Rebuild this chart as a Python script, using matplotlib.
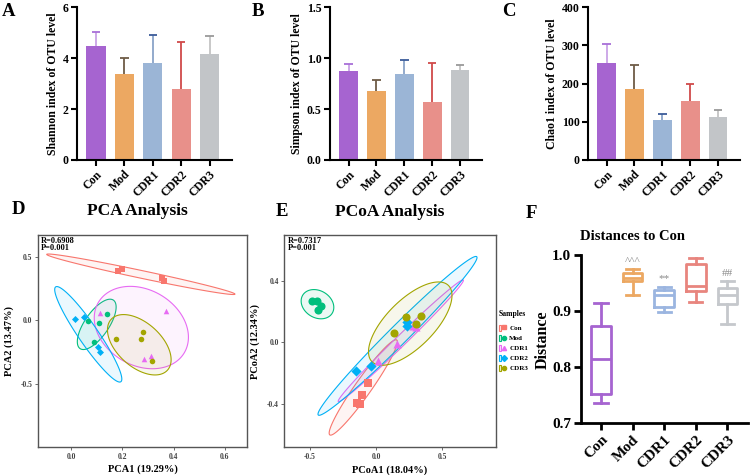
import numpy as np
import matplotlib
matplotlib.use('Agg')
import matplotlib.pyplot as plt
from matplotlib.lines import Line2D
from matplotlib.patches import Patch
from matplotlib.legend_handler import HandlerTuple
from matplotlib.colors import to_rgba

plt.rcParams['font.family'] = ['Liberation Serif', 'DejaVu Serif']
plt.rcParams['font.weight'] = 'bold'
plt.rcParams['axes.labelweight'] = 'bold'

# ---------------- data ----------------
groups = ['Con', 'Mod', 'CDR1', 'CDR2', 'CDR3']

shannon_mean = [4.48, 3.38, 3.82, 2.78, 4.15]
shannon_sd = [0.54, 0.64, 1.08, 1.87, 0.72]
simpson_mean = [0.87, 0.68, 0.84, 0.57, 0.88]
simpson_sd = [0.075, 0.105, 0.145, 0.385, 0.055]
chao1_mean = [253, 185, 104, 155, 112]
chao1_sd = [50, 64, 16, 45, 18]

# PCA (panel D) sample scores
pca_con_x = [0.184, 0.198, 0.356, 0.363]
pca_con_y = [0.389, 0.402, 0.331, 0.310]
pca_mod_x = [0.065, 0.108, 0.139, 0.090]
pca_mod_y = [-0.005, -0.024, 0.049, -0.168]
pca_cdr1_x = [0.113, 0.370, 0.285, 0.313]
pca_cdr1_y = [0.060, 0.070, -0.303, -0.277]
pca_cdr2_x = [0.017, 0.049, 0.104, 0.112]
pca_cdr2_y = [0.013, 0.026, -0.209, -0.246]
pca_cdr3_x = [0.177, 0.281, 0.274, 0.317]
pca_cdr3_y = [-0.144, -0.089, -0.149, -0.317]
# ellipse: centre x, centre y, major-axis tip x, tip y, minor/major ratio
pca_ell_cx = [0.272, 0.100, 0.274, 0.067, 0.266]
pca_ell_cy = [0.362, -0.031, -0.056, -0.109, -0.191]
pca_ell_tx = [0.639, 0.165, 0.442, 0.194, 0.376]
pca_ell_ty = [0.206, 0.159, -0.252, -0.481, -0.390]
pca_ell_ratio = [0.04, 0.41, 0.76, 0.17, 0.58]

# PCoA (panel E) sample scores
pcoa_con_x = [-0.058, -0.108, -0.141, -0.121]
pcoa_con_y = [-0.264, -0.344, -0.395, -0.405]
pcoa_mod_x = [-0.484, -0.447, -0.414, -0.435]
pcoa_mod_y = [0.270, 0.270, 0.237, 0.211]
pcoa_cdr1_x = [0.017, 0.156, 0.281, 0.299]
pcoa_cdr1_y = [-0.120, -0.013, 0.107, 0.098]
pcoa_cdr2_x = [-0.151, -0.040, 0.236, 0.231]
pcoa_cdr2_y = [-0.186, -0.153, 0.135, 0.109]
pcoa_cdr3_x = [0.226, 0.337, 0.299, 0.138]
pcoa_cdr3_y = [0.163, 0.172, 0.120, 0.063]
pcoa_ell_cx = [-0.096, -0.441, 0.187, 0.162, 0.258]
pcoa_ell_cy = [-0.295, 0.249, 0.010, 0.042, 0.122]
pcoa_ell_tx = [0.156, -0.330, 0.658, 0.759, 0.546]
pcoa_ell_ty = [0.015, 0.190, 0.407, 0.559, 0.371]
pcoa_ell_ratio = [0.14, 0.78, 0.06, 0.085, 0.44]

# Distances to Con (panel F) box statistics
dist_low = [0.736, 0.929, 0.898, 0.917, 0.878]
dist_q1 = [0.752, 0.955, 0.907, 0.936, 0.913]
dist_med = [0.814, 0.960, 0.930, 0.945, 0.929]
dist_q3 = [0.873, 0.968, 0.938, 0.984, 0.941]
dist_high = [0.914, 0.975, 0.944, 0.995, 0.954]
dist_marks = ['', '^^^', '**', '', '##']

# ---------------- styles ----------------
bar_colors = ['#A664D0', '#ECA862', '#9BB5D6', '#E8908A', '#C2C5C8']
stem_colors = ['#C9A2E6', '#6E5C46', '#8AA4C8', '#D04A4A', '#C4C4C4']
cap_colors = ['#A870D8', '#6E5C46', '#3B5C9A', '#D04A4A', '#9A9A9A']
box_colors = ['#A664D0', '#ECA862', '#9BB5E0', '#E8857E', '#C5C8CC']
grp_colors = ['#F8766D', '#00BF7D', '#E76BF3', '#00B0F6', '#A3A500']
grp_markers = ['s', 'o', '^', 'D', 'o']

W, H = 750, 475
fig = plt.figure(figsize=(W / 100, H / 100), dpi=100)


def rect(l, t, r, b):
    return [l / W, 1 - b / H, (r - l) / W, (b - t) / H]


def bar_panel(r, means, sds, ylim, yticks, ylabel, fmt):
    ax = fig.add_axes(r)
    x = np.arange(len(groups))
    means = np.array(means, float)
    sds = np.array(sds, float)
    ax.bar(x, means, width=0.68, color=bar_colors, zorder=2)
    ax.vlines(x, means, means + sds, colors=stem_colors, lw=1.3, zorder=3)
    ax.hlines(means + sds, x - 0.15, x + 0.15, colors=cap_colors, lw=1.3, zorder=3)
    ax.set_xlim(-0.67, 4.79)
    ax.set_ylim(*ylim)
    ax.set_yticks(yticks)
    ax.set_yticklabels([fmt.format(v) for v in yticks])
    ax.set_xticks(x)
    ax.set_xticklabels(groups, rotation=45, ha='right', rotation_mode='anchor')
    for s in ['top', 'right']:
        ax.spines[s].set_visible(False)
    for s in ['left', 'bottom']:
        ax.spines[s].set_linewidth(1.5)
    ax.tick_params(width=1.5, length=4, labelsize=8.5, pad=2)
    ax.set_ylabel(ylabel, fontsize=8.5, labelpad=3)
    return ax


axA = bar_panel(rect(77, 7.3, 232, 160), shannon_mean, shannon_sd, (0, 6), [0, 2, 4, 6],
                'Shannon index of OTU level', '{:g}')
axB = bar_panel(rect(330, 7.3, 482, 160), simpson_mean, simpson_sd, (0, 1.5), [0, 0.5, 1.0, 1.5],
                'Simpson index of OTU level', '{:.1f}')
axC = bar_panel(rect(588, 7.3, 740, 160), chao1_mean, chao1_sd, (0, 400), [0, 100, 200, 300, 400],
                'Chao1 index of OTU level', '{:g}')


def draw_ellipse(ax, cx, cy, tx, ty, ratio, color):
    T = ax.transData
    c = T.transform((cx, cy))
    t = T.transform((tx, ty))
    a = t - c
    b = np.array([-a[1], a[0]]) * ratio
    th = np.linspace(0, 2 * np.pi, 300)
    pts = c + np.outer(np.cos(th), a) + np.outer(np.sin(th), b)
    d = T.inverted().transform(pts)
    ax.fill(d[:, 0], d[:, 1], facecolor=to_rgba(color, 0.08), edgecolor=color, lw=0.8, zorder=1)


def ord_panel(r, xs, ys, ell, xlim, ylim, xticks, yticks, xlabel, ylabel, stat, msize):
    ax = fig.add_axes(r)
    ax.set_xlim(*xlim)
    ax.set_ylim(*ylim)
    cxs, cys, txs, tys, rats = ell
    for i in range(len(groups)):
        draw_ellipse(ax, cxs[i], cys[i], txs[i], tys[i], rats[i], grp_colors[i])
    for i in range(len(groups)):
        s = msize * (0.8 if grp_markers[i] == 'D' else 1.0)
        ax.scatter(xs[i], ys[i], marker=grp_markers[i], s=s, color=grp_colors[i],
                   linewidths=0, zorder=3)
    ax.set_xticks(xticks)
    ax.set_xticklabels(['{:.1f}'.format(v) for v in xticks])
    ax.set_yticks(yticks)
    ax.set_yticklabels(['{:.1f}'.format(v) for v in yticks])
    for s in ax.spines.values():
        s.set_color('#555555')
        s.set_linewidth(1.0)
    ax.tick_params(length=2, width=0.6, color='#555555', labelsize=5.5,
                   labelcolor='#444444', pad=2)
    ax.set_xlabel(xlabel, fontsize=7.5, labelpad=3)
    ax.set_ylabel(ylabel, fontsize=7.5, labelpad=5)
    ax.text(0.015, 0.99, stat, transform=ax.transAxes, ha='left', va='top',
            fontsize=6, linespacing=0.85)
    return ax


axD = ord_panel(rect(38, 235, 247, 447),
                [pca_con_x, pca_mod_x, pca_cdr1_x, pca_cdr2_x, pca_cdr3_x],
                [pca_con_y, pca_mod_y, pca_cdr1_y, pca_cdr2_y, pca_cdr3_y],
                (pca_ell_cx, pca_ell_cy, pca_ell_tx, pca_ell_ty, pca_ell_ratio),
                (-0.129, 0.686), (-0.993, 0.67), [0.0, 0.2, 0.4, 0.6], [-0.5, 0.0, 0.5],
                'PCA1 (19.29%)', 'PCA2 (13.47%)', 'R=0.6908\nP=0.001', 16)

axE = ord_panel(rect(284.3, 235, 495.7, 447.3),
                [pcoa_con_x, pcoa_mod_x, pcoa_cdr1_x, pcoa_cdr2_x, pcoa_cdr3_x],
                [pcoa_con_y, pcoa_mod_y, pcoa_cdr1_y, pcoa_cdr2_y, pcoa_cdr3_y],
                (pcoa_ell_cx, pcoa_ell_cy, pcoa_ell_tx, pcoa_ell_ty, pcoa_ell_ratio),
                (-0.691, 0.902), (-0.686, 0.701), [-0.5, 0.0, 0.5], [-0.4, 0.0, 0.4],
                'PCoA1 (18.04%)', 'PCoA2 (12.34%)', 'R=0.7317\nP=0.001', 34)

handles = []
for i in range(len(groups)):
    box = Patch(facecolor=to_rgba(grp_colors[i], 0.15), edgecolor=grp_colors[i], lw=0.8)
    mk = Line2D([], [], marker=grp_markers[i], color=grp_colors[i], ls='none', ms=3.0)
    handles.append((box, mk))
leg = fig.legend(handles, groups, handler_map={tuple: HandlerTuple(ndivide=None)},
                 loc='upper left', bbox_to_anchor=(494 / W, 1 - 305 / H), frameon=False,
                 title='Samples', fontsize=5, title_fontsize=5.5, handlelength=0.9,
                 handleheight=0.9, labelspacing=0.55, handletextpad=0.6, borderpad=0.2)
leg._legend_box.align = 'left'
leg._legend_box.sep = 5
leg.get_title().set_fontweight('bold')

# ---------------- panel F ----------------
axF = fig.add_axes(rect(580.7, 255.3, 748, 423.3))
xF = np.arange(len(groups))
for i in range(len(groups)):
    st = [dict(whislo=dist_low[i], q1=dist_q1[i], med=dist_med[i], q3=dist_q3[i],
               whishi=dist_high[i], fliers=[])]
    c = box_colors[i]
    axF.bxp(st, positions=[xF[i]], widths=0.62, capwidths=0.42, showfliers=False,
            boxprops=dict(color=c, lw=2), whiskerprops=dict(color=c, lw=2),
            capprops=dict(color=c, lw=2), medianprops=dict(color=c, lw=2))
    if dist_marks[i]:
        axF.text(xF[i], dist_high[i] + 0.006, dist_marks[i], ha='center', va='bottom',
                 fontsize=8, color='#8a8a8a', fontweight='normal')
axF.set_xlim(-0.64, 4.65)
axF.set_ylim(0.7, 1.0)
axF.set_yticks([0.7, 0.8, 0.9, 1.0])
axF.set_yticklabels(['0.7', '0.8', '0.9', '1.0'])
axF.set_xticks(xF)
axF.set_xticklabels(groups, rotation=45, ha='right', rotation_mode='anchor')
for s in ['top', 'right']:
    axF.spines[s].set_visible(False)
for s in ['left', 'bottom']:
    axF.spines[s].set_linewidth(2)
axF.tick_params(width=2, length=5, labelsize=11, pad=2)
axF.set_ylabel('Distance', fontsize=11.5)
axF.yaxis.set_label_coords((551 - 580.7) / (748 - 580.7), 0.5)

# ---------------- titles & letters ----------------
fig.text(137.5 / W, 1 - 211 / H, 'PCA Analysis', ha='center', va='center', fontsize=12.5)
fig.text(390 / W, 1 - 211.5 / H, 'PCoA Analysis', ha='center', va='center', fontsize=12.5)
fig.text(632 / W, 1 - 236 / H, 'Distances to Con', ha='center', va='center', fontsize=10.5)
for lab, lx, ly in [('A', 2, 3), ('B', 252, 3), ('C', 502, 3),
                    ('D', 12, 201), ('E', 276, 203), ('F', 526, 205)]:
    fig.text(lx / W, 1 - ly / H, lab, ha='left', va='top', fontsize=13.5)

fig.savefig('out.png', dpi=100)
